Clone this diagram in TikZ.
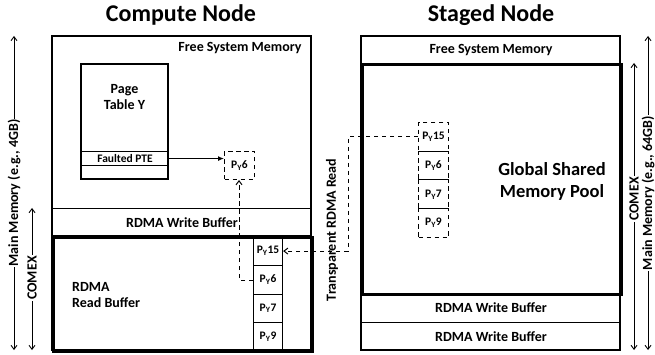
\documentclass[tikz,border=0pt]{standalone}
\usepackage{fontspec}
\setmainfont{Carlito}
\usetikzlibrary{arrows.meta}
\begin{document}
\begin{tikzpicture}[x=1pt,y=-1pt,
  lbl/.style={font=\bfseries\fontsize{14}{16}\selectfont,inner sep=0pt},
  small/.style={font=\bfseries\fontsize{11.5}{13}\selectfont,inner sep=0pt},
  title/.style={font=\bfseries\fontsize{24}{28}\selectfont,inner sep=0pt},
  big/.style={font=\bfseries\fontsize{18.5}{22}\selectfont,inner sep=0pt,align=center},
  thick box/.style={draw,line width=2.6pt},
  thin box/.style={draw,line width=1.1pt},
  dash box/.style={draw,line width=1pt,dash pattern=on 4.5pt off 3.5pt},
  dash line/.style={line width=1pt,dash pattern=on 4.5pt off 3.5pt},
  barb/.style={-{Straight Barb[length=4pt,width=6pt]}},
  dimarrow/.style={line width=0.9pt,{Straight Barb[length=4pt,width=6pt]}-{Straight Barb[length=4pt,width=6pt]}},
  side/.style={lbl,rotate=90,fill=white,inner xsep=1pt},
]
\useasboundingbox (0,0) rectangle (655,355);

% ---------- Compute node ----------
\node[title] (ctitle) at (181,15) {Compute Node};
\draw[thin box] (52,36) rectangle (311,350);
\node[lbl] (cfree) at (240,48) {Free System Memory};

% page table with its faulted entry
\draw[thin box] (81,64) rectangle (168,179);
\node[lbl,align=center] (ptab) at (124.5,97) {Page\\Table Y};
\node[thin box,small,minimum width=87pt,minimum height=14pt,anchor=north west] (pte) at (81,151) {Faulted PTE};
\node[dash box,small,minimum width=30pt,minimum height=28pt,anchor=north west] (cp6) at (224,151) {P\textsubscript{Y}6};
\draw[line width=1.1pt,-{Latex[length=6pt,width=5pt]}] (pte.east) -- (pte.east -| cp6.west);

% write buffer and read buffer
\node[thin box,lbl,minimum width=259pt,minimum height=28pt,anchor=north west] (cwb) at (52,208) {RDMA Write Buffer};
\node[thick box,minimum width=259pt,minimum height=114pt,inner sep=0pt,anchor=north west] (crb) at (52,236) {};
\node[lbl,align=left,anchor=west] (crbt) at (72,295) {RDMA\\Read Buffer};

% pages held in the read buffer
\node[thin box,small,minimum width=29pt,minimum height=29pt,anchor=north west] (c15) at (253,236) {P\textsubscript{Y}15};
\node[thin box,small,minimum width=29pt,minimum height=28.5pt,anchor=north west] (c6) at (253,265) {P\textsubscript{Y}6};
\node[thin box,small,minimum width=29pt,minimum height=28.5pt,anchor=north west] (c7) at (253,293.5) {P\textsubscript{Y}7};
\node[thin box,small,minimum width=29pt,minimum height=28pt,anchor=north west] (c9) at (253,322) {P\textsubscript{Y}9};
\draw[thick box] (52,236) rectangle (311,350);

\coordinate (cbend) at (239,280);
\draw[dash line,barb] (c6.west |- cbend) -- (cbend) -- (cbend |- cp6.south);

% dimension arrows, left
\coordinate (mmtop) at (14,36);
\coordinate (mmbot) at (14,350);
\draw[dimarrow] (mmtop) -- (mmbot);
\node[side] (mmlbl) at (14,193) {Main Memory (e.g., 4GB)};
\coordinate (cxtop) at (32,208);
\coordinate (cxbot) at (32,350);
\draw[dimarrow] (cxtop) -- (cxbot);
\node[side] (cxlbl) at (32,278) {COMEX};

% ---------- Staged node ----------
\node[title] (stitle) at (491,15) {Staged Node};
\draw[thin box] (361,36) rectangle (620,350);
\node[thin box,lbl,minimum width=259pt,minimum height=27pt,anchor=north west] (sfree) at (361,36) {Free System Memory};
\node[thin box,lbl,minimum width=259pt,minimum height=29pt,anchor=north west] (sw1) at (361,293) {RDMA Write Buffer};
\node[thin box,lbl,minimum width=259pt,minimum height=28pt,anchor=north west] (sw2) at (361,322) {RDMA Write Buffer};
\node[thick box,minimum width=259pt,minimum height=230pt,inner sep=0pt,anchor=north west] (pool) at (361,63) {};
\node[big] (poolt) at (552,181) {Global Shared\\Memory Pool};

\node[dash box,small,minimum width=30pt,minimum height=28.75pt,anchor=north west] (s15) at (418,122) {P\textsubscript{Y}15};
\node[dash box,small,minimum width=30pt,minimum height=28.75pt,anchor=north west] (s6) at (418,150.75) {P\textsubscript{Y}6};
\node[dash box,small,minimum width=30pt,minimum height=28.75pt,anchor=north west] (s7) at (418,179.5) {P\textsubscript{Y}7};
\node[dash box,small,minimum width=30pt,minimum height=28.75pt,anchor=north west] (s9) at (418,208.25) {P\textsubscript{Y}9};

% transparent read from the pool into the read buffer
\coordinate (rtop) at (348,0 |- s15.west);
\coordinate (rbot) at (348,0 |- c15.east);
\draw[dash line,barb] (s15.west) -- (rtop) -- (rbot) -- (c15.east);
\node[lbl,rotate=90] (rlbl) at (332,230) {Transparent RDMA Read};

% dimension arrows, right
\coordinate (sxtop) at (634,63);
\coordinate (sxbot) at (634,350);
\draw[dimarrow] (sxtop) -- (sxbot);
\node[side] (sxlbl) at (634,199) {COMEX};
\coordinate (smtop) at (648,36);
\coordinate (smbot) at (648,350);
\draw[dimarrow] (smtop) -- (smbot);
\node[side] (smlbl) at (648,193) {Main Memory (e.g., 64GB)};
\end{tikzpicture}
\end{document}
